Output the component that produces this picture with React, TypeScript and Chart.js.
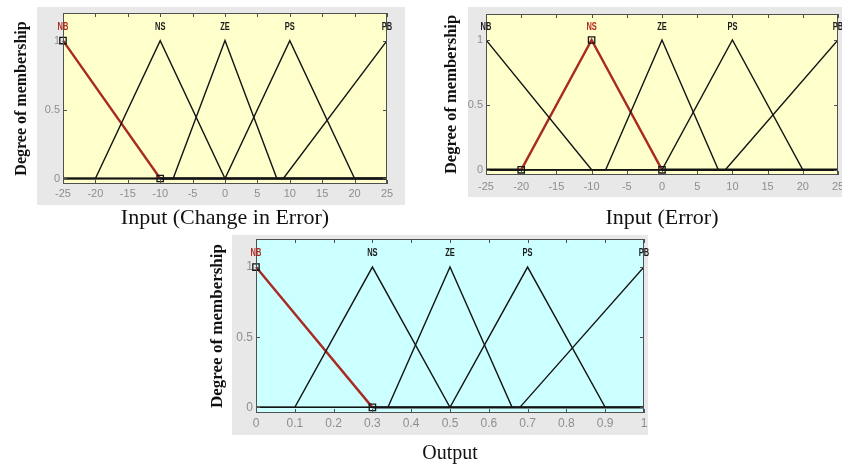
import React, { useEffect, useRef } from 'react';
import { Chart, registerables } from 'chart.js';

Chart.register(...registerables);

// Membership-function names shared by all three variables
const mfNames = ['NB', 'NS', 'ZE', 'PS', 'PB'];
const membershipTicks = [0, 0.5, 1];

// Input (Change in Error): triangle parameters [a, b, c]
const changeInErrorRange = [-25, 25];
const changeInErrorTicks = [-25, -20, -15, -10, -5, 0, 5, 10, 15, 20, 25];
const changeInErrorMFs = [
  [-25, -25, -10],
  [-20, -10, 0],
  [-8, 0, 8],
  [0, 10, 20],
  [9, 25, 25],
];
const changeInErrorSelected = 0;

// Input (Error)
const errorRange = [-25, 25];
const errorTicks = [-25, -20, -15, -10, -5, 0, 5, 10, 15, 20, 25];
const errorMFs = [
  [-25, -25, -10],
  [-20, -10, 0],
  [-8, 0, 8],
  [0, 10, 20],
  [9, 25, 25],
];
const errorSelected = 1;

// Output
const outputRange = [0, 1];
const outputTicks = [0, 0.1, 0.2, 0.3, 0.4, 0.5, 0.6, 0.7, 0.8, 0.9, 1];
const outputMFs = [
  [0, 0, 0.3],
  [0.1, 0.3, 0.5],
  [0.34, 0.5, 0.66],
  [0.5, 0.7, 0.9],
  [0.68, 1, 1],
];
const outputSelected = 0;

type Pt = { x: number; y: number; mark: boolean };

// Polyline of a triangular MF over the universe, zero outside its feet
function trianglePoints(mf: number[], range: number[]): Pt[] {
  const [a, b, c] = mf;
  const [lo, hi] = range;
  const pts: Pt[] = [];
  if (a > lo) pts.push({ x: lo, y: 0, mark: false });
  if (a < b) pts.push({ x: a, y: 0, mark: true });
  pts.push({ x: b, y: 1, mark: true });
  if (c > b) pts.push({ x: c, y: 0, mark: true });
  if (c < hi) pts.push({ x: hi, y: 0, mark: false });
  return pts;
}

const panelPlugin = {
  id: 'panel',
  beforeDraw(chart: any, _args: any, opts: any) {
    const { ctx, chartArea } = chart;
    const { left, top, right, bottom } = chartArea;
    ctx.save();
    ctx.fillStyle = '#e8e8e8';
    const [fx, fy, fw, fh] = opts.frame;
    ctx.fillRect(fx, fy, fw, fh);
    ctx.fillStyle = opts.plotColor;
    ctx.fillRect(left, top, right - left, bottom - top);
    ctx.restore();
  },
  afterDatasetsDraw(chart: any, _args: any, opts: any) {
    const { ctx, chartArea, scales } = chart;
    const { left, top, right, bottom } = chartArea;
    const xs = scales.x;
    const ys = scales.y;
    ctx.save();
    ctx.strokeStyle = '#505050';
    ctx.lineWidth = 1;
    ctx.strokeRect(left + 0.5, top + 0.5, right - left - 1, bottom - top - 1);
    ctx.beginPath();
    const tl = 4;
    xs.ticks.forEach((t: any) => {
      const px = Math.round(xs.getPixelForValue(t.value)) + 0.5;
      ctx.moveTo(px, bottom);
      ctx.lineTo(px, bottom - tl);
      ctx.moveTo(px, top);
      ctx.lineTo(px, top + tl);
    });
    ys.ticks.forEach((t: any) => {
      const py = Math.round(ys.getPixelForValue(t.value)) + 0.5;
      ctx.moveTo(left, py);
      ctx.lineTo(left + tl, py);
      ctx.moveTo(right, py);
      ctx.lineTo(right - tl, py);
    });
    ctx.stroke();

    // MF names above their peaks
    ctx.font = 'bold 11px "Liberation Sans", Arial, sans-serif';
    ctx.textAlign = 'center';
    ctx.textBaseline = 'middle';
    opts.names.forEach((name: string, i: number) => {
      const px = xs.getPixelForValue(opts.peaks[i]);
      const py = ys.getPixelForValue(1.1);
      ctx.save();
      ctx.translate(px, py);
      ctx.scale(0.68, 1);
      ctx.fillStyle = i === opts.selected ? '#b02a22' : '#1a1a1a';
      ctx.fillText(name, 0, 0);
      ctx.restore();
    });
    ctx.restore();
  },
};

type PanelProps = {
  left: number;
  top: number;
  width: number;
  height: number;
  area: { left: number; right: number; top: number; bottom: number };
  frame: number[];
  plotColor: string;
  range: number[];
  ticks: number[];
  mfs: number[][];
  selected: number;
  xTitle: string;
  xTitleSize: number;
  xTitlePad: number;
  yTitleSize: number;
  yTitlePad: number;
  tickSize: number;
  xTickPad: number;
};

function MembershipPanel(p: PanelProps) {
  const ref = useRef<HTMLCanvasElement | null>(null);

  useEffect(() => {
    if (!ref.current) return;
    const others = p.mfs
      .map((mf, i) => ({ mf, i }))
      .filter((d) => d.i !== p.selected)
      .map((d) => ({
        label: mfNames[d.i],
        data: trianglePoints(d.mf, p.range),
        showLine: true,
        borderColor: '#141414',
        borderWidth: 1.4,
        pointRadius: 0,
        pointHoverRadius: 0,
      }));
    const chosen = {
      label: mfNames[p.selected],
      data: trianglePoints(p.mfs[p.selected], p.range),
      showLine: true,
      borderColor: '#a82a20',
      borderWidth: 2.4,
      // zero-level stretches of the highlighted MF are drawn dark
      segment: {
        borderColor: (s: any) =>
          s.p0.parsed.y === 0 && s.p1.parsed.y === 0 ? '#1a1a1a' : undefined,
      },
      pointStyle: 'rect',
      pointRadius: (c: any) => (c.raw && c.raw.mark ? 4.5 : 0),
      pointBorderColor: '#141414',
      pointBorderWidth: 1.3,
      pointBackgroundColor: 'rgba(0,0,0,0)',
      clip: 6,
    };

    const tickFont = { family: '"Liberation Sans", Arial, sans-serif', size: p.tickSize };
    const chart = new Chart(ref.current, {
      type: 'scatter',
      data: { datasets: [...others, chosen] as any },
      plugins: [panelPlugin as any],
      options: {
        responsive: false,
        animation: false,
        events: [],
        layout: {
          padding: {
            left: 0,
            top: p.area.top,
            right: p.width - p.area.right,
            bottom: 0,
          },
        },
        plugins: {
          legend: { display: false },
          tooltip: { enabled: false },
          panel: {
            frame: p.frame,
            plotColor: p.plotColor,
            names: mfNames,
            peaks: p.mfs.map((m) => m[1]),
            selected: p.selected,
          },
        } as any,
        scales: {
          x: {
            type: 'linear',
            min: p.range[0],
            max: p.range[1],
            afterBuildTicks: (s: any) => {
              s.ticks = p.ticks.map((v) => ({ value: v }));
            },
            afterFit: (s: any) => {
              s.height = p.height - p.area.bottom;
              s.paddingLeft = 0;
              s.paddingRight = 0;
            },
            ticks: {
              color: '#8e8e8e',
              font: tickFont,
              padding: p.xTickPad,
              maxRotation: 0,
              autoSkip: false,
              callback: (v: any) => String(v),
            },
            grid: { display: false, drawTicks: false },
            border: { display: false },
            title: {
              display: true,
              text: p.xTitle,
              color: '#111111',
              font: { family: '"Liberation Serif", "Times New Roman", serif', size: p.xTitleSize },
              padding: { top: 0, bottom: p.xTitlePad },
            },
          },
          y: {
            type: 'linear',
            min: -0.04,
            max: 1.2,
            afterBuildTicks: (s: any) => {
              s.ticks = membershipTicks.map((v) => ({ value: v }));
            },
            afterFit: (s: any) => {
              s.width = p.area.left;
              s.paddingTop = 0;
              s.paddingBottom = 0;
            },
            ticks: {
              color: '#8e8e8e',
              font: tickFont,
              padding: 3,
              callback: (v: any) => String(v),
            },
            grid: { display: false, drawTicks: false },
            border: { display: false },
            title: {
              display: true,
              text: 'Degree of membership',
              color: '#111111',
              font: {
                family: '"Liberation Serif", "Times New Roman", serif',
                size: p.yTitleSize,
                weight: 'bold',
              },
              padding: { top: p.yTitlePad, bottom: 0 },
            },
          },
        },
      },
    });
    return () => chart.destroy();
  }, []);

  return (
    <canvas
      ref={ref}
      width={p.width}
      height={p.height}
      style={{ position: 'absolute', left: p.left, top: p.top, width: p.width, height: p.height }}
    />
  );
}

export default function App() {
  return (
    <div
      style={{
        position: 'fixed',
        left: 0,
        top: 0,
        width: 842,
        height: 466,
        background: '#ffffff',
        overflow: 'hidden',
      }}
    >
      <MembershipPanel
        left={0}
        top={0}
        width={420}
        height={232}
        area={{ left: 63, right: 387, top: 13, bottom: 184 }}
        frame={[37, 7, 368, 198]}
        plotColor="#ffffcc"
        range={changeInErrorRange}
        ticks={changeInErrorTicks}
        mfs={changeInErrorMFs}
        selected={changeInErrorSelected}
        xTitle="Input (Change in Error)"
        xTitleSize={22}
        xTitlePad={1}
        yTitleSize={16}
        yTitlePad={12}
        tickSize={11}
        xTickPad={3}
      />
      <MembershipPanel
        left={420}
        top={0}
        width={422}
        height={232}
        area={{ left: 66, right: 418, top: 14, bottom: 175 }}
        frame={[48, 7, 374, 190]}
        plotColor="#ffffcc"
        range={errorRange}
        ticks={errorTicks}
        mfs={errorMFs}
        selected={errorSelected}
        xTitle="Input (Error)"
        xTitleSize={22}
        xTitlePad={1}
        yTitleSize={16.5}
        yTitlePad={22}
        tickSize={11}
        xTickPad={5}
      />
      <MembershipPanel
        left={200}
        top={225}
        width={450}
        height={241}
        area={{ left: 56, right: 444, top: 14, bottom: 188 }}
        frame={[32, 10, 416, 200]}
        plotColor="#ccffff"
        range={outputRange}
        ticks={outputTicks}
        mfs={outputMFs}
        selected={outputSelected}
        xTitle="Output"
        xTitleSize={20}
        xTitlePad={0}
        yTitleSize={17}
        yTitlePad={7}
        tickSize={12}
        xTickPad={3}
      />
    </div>
  );
}
